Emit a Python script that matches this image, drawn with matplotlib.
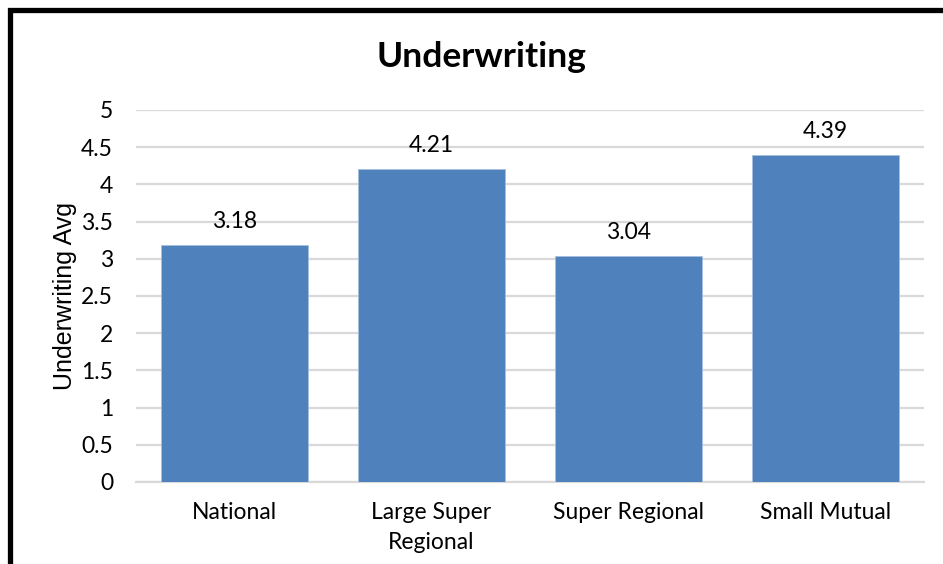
import matplotlib
matplotlib.use("Agg")
import matplotlib.pyplot as plt
from matplotlib.patches import Rectangle

categories = ["National", "Large Super\nRegional", "Super Regional", "Small Mutual"]
values = [3.18, 4.21, 3.04, 4.39]
yticks = [0, 0.5, 1, 1.5, 2, 2.5, 3, 3.5, 4, 4.5, 5]

bar_color = "#4F81BD"
grid_color = "#D9D9D9"
font = "Lato"
fs = 16.5

fig = plt.figure(figsize=(9.43, 5.64), dpi=100)
ax = fig.add_axes([0.1442, 0.1454, 0.8357, 0.6596])

x = range(len(categories))
bars = ax.bar(x, values, width=0.75, color=bar_color, edgecolor="#A7BFDE",
              linewidth=0.6, zorder=3)

# value labels above each bar
for rect, v in zip(bars, values):
    ax.annotate(f"{v:.2f}", (rect.get_x() + rect.get_width() / 2, v),
                xytext=(0, 9.5), textcoords="offset points",
                ha="center", va="bottom", fontsize=fs, family=font)

ax.set_xlim(-0.5, len(categories) - 0.5)
ax.set_ylim(0, 5)
ax.set_yticks(yticks)
ax.set_yticklabels([f"{t:g}" for t in yticks], fontsize=fs, family=font)
ax.set_xticks(list(x))
ax.set_xticklabels(categories, fontsize=fs, family=font, linespacing=1.55)
ax.tick_params(axis="both", length=0)
ax.tick_params(axis="y", pad=16.5)
ax.tick_params(axis="x", pad=14.5)

ax.yaxis.grid(True, color=grid_color, linewidth=1.6, zorder=0)
for side in ["left", "right", "top"]:
    ax.spines[side].set_visible(False)
ax.spines["bottom"].set_color(grid_color)
ax.spines["bottom"].set_linewidth(1.6)

ax.set_ylabel("Underwriting Avg", fontsize=18, family="Liberation Sans")
ax.yaxis.set_label_coords(-0.0745, 0.5)
fig.text(0.511, 0.899, "Underwriting", ha="center", va="center",
         fontsize=25.5, fontweight="bold", family=font)

# black frame around the chart, running off the right and bottom edges
fig.patches.append(Rectangle((0.0101, -0.2), 1.2, 0.9814 + 0.2,
                             transform=fig.transFigure, fill=False,
                             edgecolor="black", linewidth=3.8))

fig.savefig("out.png", dpi=100, facecolor="white")
